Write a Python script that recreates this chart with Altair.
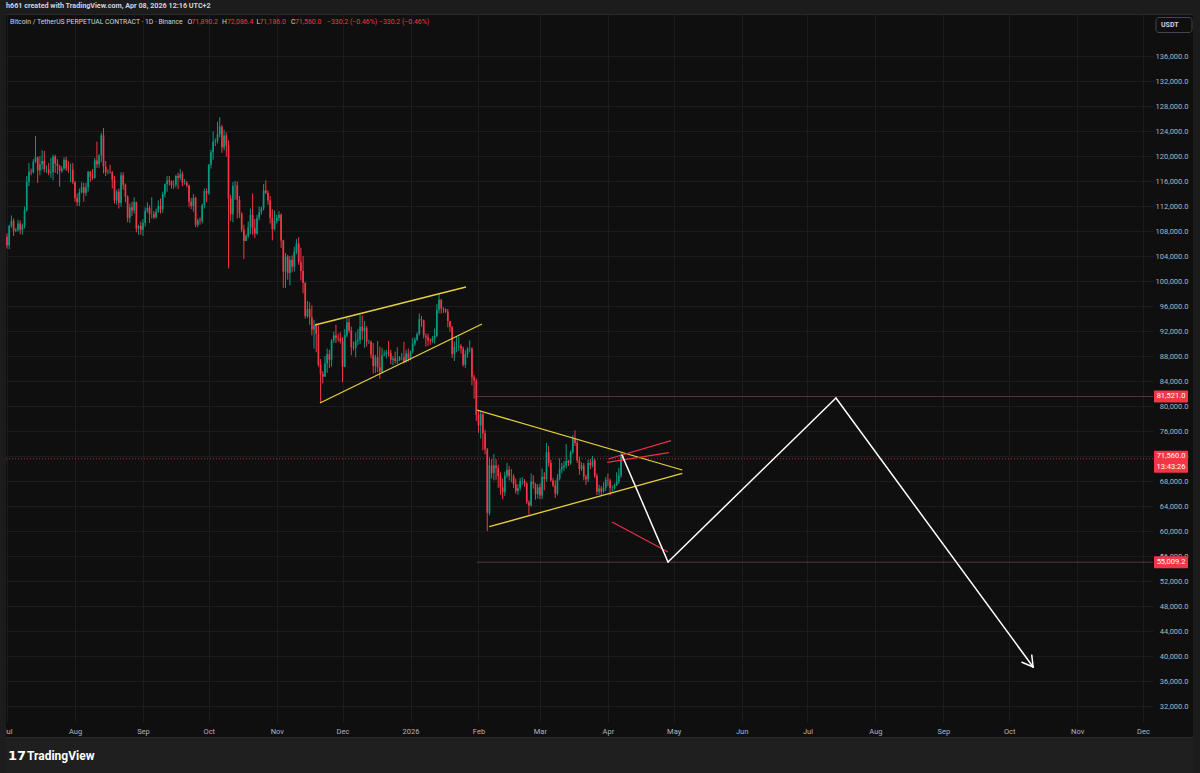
import altair as alt
import pandas as pd

# ---------------- data (prices in thousand USDT) ----------------
FIRST_OPEN = 107.1

close_jul = [105.7,108.8,109.6,108.0,108.2,109.2,108.2,108.9,111.3,115.9,117.5,117.4,119.1,119.8,117.7,118.7,119.2,117.9,117.9,117.3,117.4,119.9,118.8,118.4,117.6,118.0,119.4,118.0,117.8,117.8,115.8]
high_jul = [107.6,109.0,110.5,110.0,108.5,109.8,109.7,109.2,111.9,116.8,118.9,118.0,119.5,123.2,119.9,120.0,120.9,120.8,118.5,118.9,119.7,120.2,120.2,119.5,118.6,118.4,119.8,119.9,119.2,118.8,118.9]
low_jul = [105.2,105.1,108.5,107.2,107.8,107.9,107.5,107.4,108.4,111.1,115.2,116.9,117.2,118.9,115.7,116.9,117.8,117.4,117.3,116.9,116.5,116.1,117.3,117.1,115.1,117.3,117.8,117.6,117.3,115.8,115.5]

close_aug = [113.3,112.6,114.2,115.0,114.1,115.0,117.5,116.7,116.5,119.3,118.7,120.1,123.3,118.3,117.4,117.5,117.4,116.2,112.9,114.3,112.5,116.9,115.4,113.5,110.1,111.8,111.3,112.6,108.4,108.8,108.2]
high_aug = [116.0,114.0,114.8,115.8,115.7,115.7,117.6,117.6,117.9,119.7,122.3,120.3,123.7,124.5,119.2,117.9,118.6,117.6,116.8,114.6,114.8,117.4,117.4,115.6,113.7,112.4,112.7,113.4,112.7,109.0,109.5]
low_aug = [112.7,112.0,112.0,114.0,112.7,113.6,114.3,115.9,116.2,116.4,118.1,118.1,119.0,117.2,116.8,117.1,117.2,114.8,112.4,112.2,111.6,111.9,114.6,112.6,109.4,109.3,110.4,110.8,107.8,107.4,107.4]

close_sep = [109.3,111.2,111.7,110.7,110.7,110.2,111.1,112.0,111.5,113.9,115.5,116.1,115.9,115.3,115.4,116.8,116.5,117.1,115.7,115.7,115.3,112.7,112.0,113.3,109.0,109.7,109.6,112.1,114.4,114.0]
high_sep = [109.9,111.8,112.6,112.1,113.4,111.2,111.6,112.9,113.2,114.3,115.6,116.8,116.8,116.1,116.1,117.0,117.3,117.9,117.5,116.3,116.0,115.4,113.3,113.9,113.5,110.0,110.2,112.4,114.8,114.8]
low_sep = [107.2,108.7,110.9,109.3,110.0,109.9,110.0,110.9,110.8,110.9,113.4,114.3,115.3,114.8,114.7,115.0,114.7,116.1,115.2,115.4,115.0,111.8,111.5,111.1,108.6,108.6,109.0,109.2,111.6,112.6]

close_oct = [118.6,120.6,122.3,122.4,123.5,124.7,121.4,123.3,121.7,113.2,110.7,115.2,115.3,113.0,110.8,108.2,106.4,107.2,108.6,110.6,108.5,107.6,110.1,111.0,111.6,114.5,114.1,112.9,110.1,108.3,109.6]
high_oct = [118.7,121.0,123.9,122.8,125.5,126.2,125.0,124.2,123.8,122.5,113.8,115.8,116.0,115.9,113.6,111.0,109.0,107.5,109.5,111.6,114.0,109.9,110.6,111.9,111.9,115.5,116.1,114.5,113.6,111.5,111.3]
low_oct = [113.8,118.0,119.4,121.6,122.0,123.0,120.5,120.9,119.9,102.0,109.6,109.4,113.0,110.0,110.1,107.8,103.5,106.4,106.9,107.5,107.4,106.9,107.4,109.7,110.6,111.3,113.9,112.2,109.2,106.5,108.1]

close_nov = [110.1,110.6,106.5,101.5,103.9,101.3,103.4,102.3,104.7,106.0,103.0,101.6,99.7,94.4,95.5,94.2,92.2,92.9,91.5,86.6,85.1,84.7,86.8,88.3,87.4,90.5,91.3,90.9,90.8,90.4]
high_nov = [110.6,111.2,110.8,106.6,104.5,104.2,104.0,104.1,105.5,106.7,107.0,105.3,104.0,99.8,96.8,96.6,96.1,93.8,93.2,92.9,87.5,85.6,88.0,89.2,89.0,90.7,91.9,93.0,91.6,91.8]
low_nov = [109.2,109.6,105.3,98.9,98.9,100.2,99.3,101.4,101.5,104.3,102.6,100.1,98.0,94.0,94.1,93.0,91.3,89.2,88.6,86.3,80.5,83.6,84.7,85.3,86.1,86.3,90.1,90.1,90.3,90.0]

close_dec = [86.3,91.3,93.4,92.1,89.4,89.3,90.4,90.6,92.7,92.0,92.5,90.3,90.3,88.2,86.4,87.8,86.2,85.5,88.1,88.3,88.6,88.5,87.4,87.6,87.2,87.3,87.8,87.8,87.1,88.4,87.6]
high_dec = [91.0,92.3,94.1,94.1,92.7,90.3,91.8,92.3,94.6,94.5,93.6,92.8,90.6,90.5,90.1,88.2,90.4,89.5,89.3,88.9,89.0,90.4,89.0,88.0,88.7,89.4,88.0,88.5,90.3,89.0,89.2]
low_dec = [83.8,86.2,91.0,91.7,88.1,88.9,87.8,89.7,89.9,90.6,89.3,89.5,89.9,87.6,85.2,85.3,85.4,84.4,85.2,88.0,87.6,87.9,86.7,86.5,86.8,86.7,87.2,87.3,86.8,86.9,87.1]

close_jan = [88.7,90.0,90.6,91.5,93.9,93.7,91.3,91.0,90.5,90.4,90.8,91.2,95.4,97.0,95.6,95.5,95.1,93.6,92.6,88.3,89.5,89.5,89.6,89.2,86.6,88.3,89.2,89.2,84.6,84.1,78.6]
high_jan = [88.9,90.9,91.0,91.8,94.8,94.4,93.8,91.6,91.6,90.8,91.2,92.4,96.3,97.9,97.1,95.8,95.6,95.5,93.6,92.8,90.3,91.1,91.1,89.9,89.5,88.9,89.4,90.5,89.4,85.0,84.4]
low_jan = [87.3,88.4,89.6,90.4,91.3,92.7,90.8,89.5,89.6,89.8,90.1,90.0,91.0,94.8,94.8,94.9,94.9,92.6,91.9,87.7,87.2,88.6,88.8,88.4,86.3,86.1,87.7,88.6,83.3,81.2,77.6]

close_feb = [76.9,78.7,75.6,73.1,62.9,70.5,69.3,70.5,70.1,68.8,67.0,66.2,68.9,69.8,68.8,68.8,67.5,66.4,66.9,68.0,68.0,67.6,64.6,64.1,67.9,67.5,65.9,67.0]
high_feb = [79.3,79.3,79.0,76.2,73.3,71.8,71.5,72.3,71.5,70.6,69.4,68.4,69.5,70.9,70.4,69.9,69.1,68.4,67.5,68.5,68.6,68.3,67.8,64.9,69.2,68.9,67.7,67.5]
low_feb = [75.7,74.8,72.9,72.3,60.0,62.5,68.4,68.1,68.2,66.9,65.8,65.1,65.6,68.5,68.1,67.8,66.9,66.0,65.8,66.5,67.4,67.1,64.3,62.6,63.9,66.8,65.0,65.2]

close_mar = [65.7,68.7,68.3,72.6,70.9,68.1,67.3,66.0,68.4,69.9,70.2,70.5,71.2,70.9,72.6,74.8,74.1,71.3,69.9,70.5,68.7,68.3,70.9,70.5,71.3,68.8,66.3,66.8,66.3,66.9,68.2]
high_mar = [67.6,70.0,69.4,74.1,73.6,71.4,68.5,68.1,69.1,71.6,70.9,71.2,73.9,71.4,72.9,75.4,76.1,74.5,71.9,71.0,70.9,69.0,71.4,71.5,72.0,71.6,69.2,67.4,67.2,67.8,68.6]
low_mar = [65.1,65.1,66.5,67.9,70.3,67.9,67.0,65.3,65.7,68.1,69.2,69.6,70.0,70.4,70.6,72.4,73.6,70.9,69.0,69.6,68.1,67.4,67.8,69.9,70.2,68.5,65.8,65.8,65.6,66.1,66.4]

close_apr = [68.1,66.9,66.9,67.3,67.9,68.9,71.8902,71.56]
high_apr = [69.2,68.4,67.3,67.6,69.4,70.1,72.6,72.0864]
low_apr = [67.2,65.7,66.2,66.6,67.2,67.5,68.5,71.186]

FIRST_DAY = "2025-07-01"

# drawings: (time, price) pairs
yellow_segments = [
    ("2025-11-18 10:00", 92960, "2026-01-26 07:00", 99040),
    ("2025-11-20 17:00", 80480, "2026-02-02 14:00", 93120),
    ("2026-01-31 05:00", 79360, "2026-05-04 22:00", 69760),
    ("2026-02-05 22:00", 60690, "2026-05-04 22:00", 69230),
]
red_segments = [
    ("2026-04-01 05:00", 71520, "2026-04-29 19:00", 74450),
    ("2026-03-31 17:00", 70990, "2026-04-28 22:00", 72530),
    ("2026-04-02 22:00", 61440, "2026-04-28 10:00", 56640),
]
white_path = [
    ("2026-04-07 10:00", 72160),
    ("2026-04-28 10:00", 55040),
    ("2026-07-14 00:00", 81280),
    ("2026-10-11 22:00", 38240),
]
arrow_legs = [("2026-10-11 07:00", 40140), ("2026-10-06 19:00", 39000)]

level_prices = [81521.0, 55009.2]
level_labels = ["81,521.0", "55,009.2"]
level_start = "2026-01-31 05:00"
last_price = 71560.0
last_label = "71,560.0"
countdown = "13:43:26"

price_ticks = list(range(32000, 136001, 4000))
month_ticks = [(2025, m) for m in range(7, 13)] + [(2026, m) for m in range(1, 13)]

header_text = "h661 created with TradingView.com, Apr 08, 2026 12:16 UTC+2"
symbol_text = "Bitcoin / TetherUS PERPETUAL CONTRACT · 1D · Binance"
ohlc_letters = ["O", "H", "L", "C"]
ohlc_values = ["71,890.2", "72,086.4", "71,186.0", "71,560.0"]
change_text = "\u2212330.2 (\u22120.46%)"

# ---------------- build tables ----------------
def to_ms(s):
    return int(pd.Timestamp(s, tz="UTC").value // 10**6)

closes = close_jul + close_aug + close_sep + close_oct + close_nov + close_dec + close_jan + close_feb + close_mar + close_apr
highs = high_jul + high_aug + high_sep + high_oct + high_nov + high_dec + high_jan + high_feb + high_mar + high_apr
lows = low_jul + low_aug + low_sep + low_oct + low_nov + low_dec + low_jan + low_feb + low_mar + low_apr
opens = [FIRST_OPEN] + closes[:-1]
dates = pd.date_range(FIRST_DAY, periods=len(closes), freq="D", tz="UTC")

candles = pd.DataFrame({
    "t": [int(d.value // 10**6) for d in dates],
    "open": [v * 1000 for v in opens],
    "close": [v * 1000 for v in closes],
    "high": [v * 1000 for v in highs],
    "low": [v * 1000 for v in lows],
})
candles["dir"] = ["up" if c >= o else "down" for o, c in zip(candles["open"], candles["close"])]

def seg_df(segs):
    return pd.DataFrame({"t": [to_ms(s[0]) for s in segs], "p": [s[1] for s in segs],
                         "t2": [to_ms(s[2]) for s in segs], "p2": [s[3] for s in segs]})

yellow_df = seg_df(yellow_segments)
red_df = seg_df(red_segments)
white_segs = [(white_path[i][0], white_path[i][1], white_path[i + 1][0], white_path[i + 1][1]) for i in range(len(white_path) - 1)]
tip = white_path[-1]
white_segs += [(leg[0], leg[1], tip[0], tip[1]) for leg in arrow_legs]
white_df = seg_df(white_segs)

levels_df = pd.DataFrame({"t": [to_ms(level_start)] * len(level_prices), "p": level_prices, "label": level_labels})
last_df = pd.DataFrame({"p": [last_price], "label": [last_label], "cd": [countdown]})
one = pd.DataFrame({"k": [0]})

# ---------------- scales / axes ----------------
W, H = 1147, 708
FONT = "Roboto"
GRID = "#1c1c1c"
LABEL = "#b2b5be"
UP, DOWN = "#089981", "#f23645"

xscale = alt.Scale(type="utc", domain=[to_ms("2025-06-30 13:03"), to_ms("2026-12-05 13:41")], padding=0, nice=False)
yscale = alt.Scale(domain=[29440, 142720], nice=False, zero=False, padding=0)
xaxis = alt.Axis(
    values=[to_ms(f"{y}-{m:02d}-01") for y, m in month_ticks],
    labelExpr="utcFormat(datum.value, '%m') == '01' ? utcFormat(datum.value, '%Y') : utcFormat(datum.value, '%b')",
    title=None, grid=True, gridColor=GRID, ticks=False, domain=False,
    labelFlush=False, labelBound=False, labelPadding=5, labelOverlap=False,
    labelColor=LABEL, labelFont=FONT, labelFontSize=7.5,
)
yaxis = alt.Axis(
    orient="right", values=price_ticks, format=",.1f", title=None,
    grid=True, gridColor=GRID, ticks=False, domain=False,
    labelAlign="right", labelPadding=35, labelOverlap=False, labelFlush=False,
    labelColor=LABEL, labelFont=FONT, labelFontSize=7.5,
)

def X(f="t"):
    return alt.X(f"{f}:T", scale=xscale, axis=xaxis)

def Y(f="p"):
    return alt.Y(f"{f}:Q", scale=yscale, axis=yaxis)

color_dir = alt.Color("dir:N", scale=alt.Scale(domain=["up", "down"], range=[UP, DOWN]), legend=None)

layers = []

# frame
FRAME = "#1c1c1c"
for (x1, x2, y1, y2, col) in [(-6, 1194, -14, 0, FRAME), (-6, 1194, 724, 759, "#1f1f1f"),
                               (-6, 0, -14, 759, FRAME), (1187, 1194, -14, 759, FRAME)]:
    layers.append(alt.Chart(one).mark_rect(color=col).encode(
        x=alt.value(x1), x2=alt.value(x2), y=alt.value(y1), y2=alt.value(y2)))
layers.append(alt.Chart(one).mark_rule(color="#2a2a2a", strokeWidth=1).encode(
    x=alt.value(0), x2=alt.value(1187), y=alt.value(0.5)))
layers.append(alt.Chart(one).mark_rule(color="#2a2a2a", strokeWidth=1).encode(
    x=alt.value(0), x2=alt.value(1187), y=alt.value(723.5)))

# level lines
layers.append(alt.Chart(levels_df).mark_rule(color="#553538", strokeWidth=1).encode(
    x=X(), x2=alt.value(W), y=Y()))
# last price dotted line
layers.append(alt.Chart(last_df).mark_rule(color=DOWN, strokeWidth=1, strokeDash=[1, 2], opacity=0.7).encode(
    x=alt.value(0), x2=alt.value(W), y=Y()))

# candles
layers.append(alt.Chart(candles).mark_rule(strokeWidth=1).encode(
    x=X(), y=Y("low"), y2=alt.Y2("high:Q"), color=color_dir))
layers.append(alt.Chart(candles).mark_bar(size=1.7).encode(
    x=X(), y=Y("open"), y2=alt.Y2("close:Q"), color=color_dir))

# drawings
layers.append(alt.Chart(yellow_df).mark_rule(color="#e6cf3a", strokeWidth=1.3).encode(
    x=X(), y=Y(), x2=alt.X2("t2:T"), y2=alt.Y2("p2:Q")))
layers.append(alt.Chart(red_df).mark_rule(color="#e8304a", strokeWidth=1.2).encode(
    x=X(), y=Y(), x2=alt.X2("t2:T"), y2=alt.Y2("p2:Q")))
layers.append(alt.Chart(white_df).mark_rule(color="#ffffff", strokeWidth=1.5, strokeCap="round").encode(
    x=X(), y=Y(), x2=alt.X2("t2:T"), y2=alt.Y2("p2:Q")))

# price tags
layers.append(alt.Chart(levels_df).mark_rect(color=DOWN, yOffset=-6, y2Offset=6, cornerRadius=1).encode(
    x=alt.value(1148), x2=alt.value(1182), y=Y(), y2=alt.Y2("p:Q")))
layers.append(alt.Chart(levels_df).mark_text(color="white", font=FONT, fontSize=7.5, align="center", baseline="middle").encode(
    x=alt.value(1165), y=Y(), text="label:N"))
layers.append(alt.Chart(last_df).mark_rect(color=DOWN, yOffset=-8, y2Offset=14, cornerRadius=1).encode(
    x=alt.value(1148), x2=alt.value(1182), y=Y(), y2=alt.Y2("p:Q")))
layers.append(alt.Chart(last_df).mark_text(color="white", font=FONT, fontSize=7.5, align="center", baseline="middle", dy=-2.5).encode(
    x=alt.value(1165), y=Y(), text="label:N"))
layers.append(alt.Chart(last_df).mark_text(color="white", font=FONT, fontSize=7.5, align="center", baseline="middle", dy=8.5).encode(
    x=alt.value(1165), y=Y(), text="cd:N"))

# USDT box
layers.append(alt.Chart(one).mark_rect(fill="#0f0f0f", stroke="#434651", strokeWidth=1, cornerRadius=3).encode(
    x=alt.value(1150), x2=alt.value(1186), y=alt.value(3.5), y2=alt.value(18.5)))
layers.append(alt.Chart(one).mark_text(text="USDT", color="#d1d4dc", font=FONT, fontSize=7, fontWeight="bold",
                                       align="left", baseline="middle").encode(x=alt.value(1155), y=alt.value(11)))

# header and legend texts
layers.append(alt.Chart(one).mark_text(text=header_text, color="#d1d4dc", font=FONT, fontSize=7.2, fontWeight="bold",
                                       align="left", baseline="middle").encode(x=alt.value(0), y=alt.value(-8)))
layers.append(alt.Chart(one).mark_text(text=symbol_text, color="#d1d4dc", font=FONT, fontSize=6.8,
                                       align="left", baseline="middle").encode(x=alt.value(4), y=alt.value(8)))
letter_x = [181.5, 216, 250.5, 285]
value_x = [185.5, 221, 253.5, 289]
for lt, lx, vv, vx in zip(ohlc_letters, letter_x, ohlc_values, value_x):
    layers.append(alt.Chart(one).mark_text(text=lt, color="#d1d4dc", font=FONT, fontSize=6.9,
                                           align="left", baseline="middle").encode(x=alt.value(lx), y=alt.value(8)))
    layers.append(alt.Chart(one).mark_text(text=vv, color=DOWN, font=FONT, fontSize=6.9,
                                           align="left", baseline="middle").encode(x=alt.value(vx), y=alt.value(8)))
for cx in [321, 373]:
    layers.append(alt.Chart(one).mark_text(text=change_text, color=DOWN, font=FONT, fontSize=6.9,
                                           align="left", baseline="middle").encode(x=alt.value(cx), y=alt.value(8)))

# footer logo
layers.append(alt.Chart(one).mark_text(text="17", color="#ffffff", font="DejaVu Sans", fontSize=13, fontWeight="bold",
                                       align="left", baseline="middle").encode(x=alt.value(2), y=alt.value(742)))
layers.append(alt.Chart(one).mark_text(text="TradingView", color="#ffffff", font=FONT, fontSize=12, fontWeight="bold",
                                       align="left", baseline="middle").encode(x=alt.value(21), y=alt.value(742)))

chart = alt.layer(*layers).properties(
    width=W, height=H,
    padding={"left": 6, "top": 14, "right": 47, "bottom": 51},
    autosize=alt.AutoSizeParams(type="none"),
    background="#0f0f0f",
).configure_view(strokeWidth=0)

chart.save("out.html", embed_options={"renderer": "svg", "actions": False})
